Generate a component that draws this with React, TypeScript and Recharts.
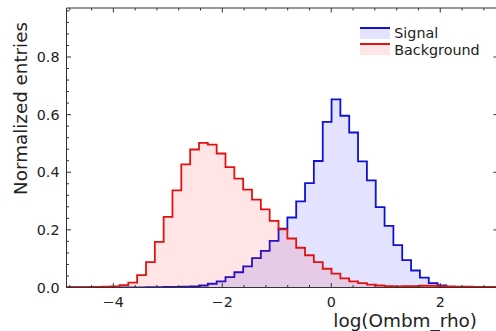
import React from 'react';
import { ComposedChart, Area, XAxis, YAxis } from 'recharts';

// Histogram bin edges (log(Ombm_rho))
const binEdges = [
  -4.861, -4.699, -4.537, -4.375, -4.212, -4.05, -3.888, -3.726, -3.564, -3.401,
  -3.239, -3.077, -2.915, -2.753, -2.59, -2.428, -2.266, -2.104, -1.942, -1.779,
  -1.617, -1.455, -1.293, -1.131, -0.968, -0.806, -0.644, -0.482, -0.32, -0.157,
  0.005, 0.167, 0.329, 0.491, 0.654, 0.816, 0.978, 1.14, 1.302, 1.465,
  1.627, 1.789, 1.951, 2.113, 2.276, 2.438, 2.6, 2.762, 2.924, 3.087,
];

const signalValues = [
  0, 0, 0, 0, 0, 0, 0, 0, 0, 0.001,
  0.001, 0.002, 0.002, 0.003, 0.004, 0.007, 0.013, 0.021, 0.036, 0.053,
  0.073, 0.102, 0.127, 0.162, 0.204, 0.243, 0.299, 0.362, 0.439, 0.575,
  0.653, 0.596, 0.538, 0.438, 0.372, 0.279, 0.214, 0.147, 0.095, 0.059,
  0.034, 0.015, 0.007, 0.002, 0.001, 0, 0, 0, 0,
];

const backgroundValues = [
  0.001, 0.001, 0.001, 0.002, 0.003, 0.004, 0.008, 0.017, 0.043, 0.088,
  0.158, 0.245, 0.337, 0.427, 0.479, 0.502, 0.496, 0.465, 0.418, 0.378,
  0.34, 0.305, 0.271, 0.231, 0.202, 0.17, 0.138, 0.112, 0.088, 0.065,
  0.048, 0.032, 0.021, 0.015, 0.01, 0.007, 0.005, 0.004, 0.005, 0.005,
  0.006, 0.006, 0.005, 0.004, 0.003, 0.003, 0.002, 0.002, 0.002,
];

const seriesNames = ['Signal', 'Background'];

const xMajorTicks = [-4, -2, 0, 2];
const xMinorTicks = [-4.8, -4.4, -3.6, -3.2, -2.8, -2.4, -1.6, -1.2, -0.8, -0.4, 0.4, 0.8, 1.2, 1.6, 2.4, 2.8];
const yMajorTicks = [0, 0.2, 0.4, 0.6, 0.8];
const yMinorTicks = [0.04, 0.08, 0.12, 0.16, 0.24, 0.28, 0.32, 0.36, 0.44, 0.48, 0.52, 0.56, 0.64, 0.68, 0.72, 0.76, 0.84, 0.88, 0.92, 0.96];

const X_DOMAIN: [number, number] = [-4.86, 3.06];
const Y_DOMAIN: [number, number] = [0, 0.97];

const FONT = '"DejaVu Sans", sans-serif';
const AX = '#333';
const TXT = '#222';
const BLUE = '#1111d6';
const RED = '#e01212';
const BLUE_FILL = '#0000ff';
const RED_FILL = '#ff0000';

const rows = binEdges.map((x, i) => ({
  x,
  sig: i < signalValues.length ? signalValues[i] : signalValues[signalValues.length - 1],
  bkg: i < backgroundValues.length ? backgroundValues[i] : backgroundValues[backgroundValues.length - 1],
}));

const fmtX = (v: number) => String(v).replace('-', '\u2212');

const BottomTick = (props: any) => {
  const { x, y, payload } = props;
  const v = payload.value;
  const major = xMajorTicks.includes(v);
  return (
    <g>
      <line x1={x} x2={x} y1={y} y2={y - (major ? 4.5 : 2.5)} stroke={AX} strokeWidth={1} />
      {major && (
        <text x={x} y={y + 19} textAnchor="middle" fontSize={14.3} fill={TXT} fontFamily={FONT}>
          {fmtX(v)}
        </text>
      )}
    </g>
  );
};

const TopTick = (props: any) => {
  const { x, y, payload } = props;
  const major = xMajorTicks.includes(payload.value);
  return <line x1={x} x2={x} y1={y} y2={y + (major ? 4.5 : 2.5)} stroke={AX} strokeWidth={1} />;
};

const LeftTick = (props: any) => {
  const { x, y, payload } = props;
  const v = payload.value;
  const major = yMajorTicks.includes(v);
  return (
    <g>
      <line x1={x} x2={x + (major ? 4.5 : 2.5)} y1={y} y2={y} stroke={AX} strokeWidth={1} />
      {major && (
        <text x={x - 7} y={y + 5.2} textAnchor="end" fontSize={14.3} fill={TXT} fontFamily={FONT}>
          {v.toFixed(1)}
        </text>
      )}
    </g>
  );
};

const RightTick = (props: any) => {
  const { x, y } = props;
  return <line x1={x} x2={x - 4.5} y1={y} y2={y} stroke={AX} strokeWidth={1} />;
};

const XTitle = () => (
  <text x={477} y={327} textAnchor="end" fontSize={18.4} fill={TXT} fontFamily={FONT}>
    log(Ombm_rho)
  </text>
);

const YTitle = () => (
  <text
    x={27}
    y={108.5}
    transform="rotate(-90 27 108.5)"
    textAnchor="middle"
    fontSize={18.3}
    fill={TXT}
    fontFamily={FONT}
  >
    Normalized entries
  </text>
);

const legendItems = [
  { name: seriesNames[0], stroke: BLUE, fill: 'rgba(0,0,255,0.11)' },
  { name: seriesNames[1], stroke: RED, fill: 'rgba(255,0,0,0.1)' },
];

export default function App() {
  return (
    <div
      style={{
        position: 'absolute',
        left: 0,
        top: 0,
        width: 496,
        height: 331,
        overflow: 'hidden',
        background: '#fff',
        fontFamily: FONT,
      }}
    >
      <ComposedChart width={500} height={331} data={rows} margin={{ top: 7, right: 1, bottom: 0, left: 0 }}>
        <XAxis
          xAxisId="b"
          type="number"
          dataKey="x"
          domain={X_DOMAIN}
          allowDataOverflow
          ticks={[...xMajorTicks, ...xMinorTicks]}
          interval={0}
          tickSize={0}
          tickMargin={0}
          tickLine={false}
          tick={BottomTick}
          axisLine={{ stroke: AX, strokeWidth: 1 }}
          height={43.5}
          label={{ content: XTitle }}
        />
        <XAxis
          xAxisId="t"
          orientation="top"
          type="number"
          dataKey="x"
          domain={X_DOMAIN}
          allowDataOverflow
          ticks={[...xMajorTicks, ...xMinorTicks]}
          interval={0}
          tickSize={0}
          tickMargin={0}
          tickLine={false}
          tick={TopTick}
          axisLine={{ stroke: AX, strokeWidth: 1 }}
          height={1}
        />
        <YAxis
          yAxisId="l"
          type="number"
          domain={Y_DOMAIN}
          allowDataOverflow
          ticks={[...yMajorTicks, ...yMinorTicks]}
          interval={0}
          tickSize={0}
          tickMargin={0}
          tickLine={false}
          tick={LeftTick}
          axisLine={{ stroke: AX, strokeWidth: 1 }}
          width={66.5}
          label={{ content: YTitle }}
        />
        <YAxis
          yAxisId="r"
          orientation="right"
          type="number"
          domain={Y_DOMAIN}
          allowDataOverflow
          ticks={yMajorTicks}
          interval={0}
          tickSize={0}
          tickMargin={0}
          tickLine={false}
          tick={RightTick}
          axisLine={{ stroke: AX, strokeWidth: 1 }}
          width={1}
        />
        <Area
          xAxisId="b"
          yAxisId="l"
          type="stepAfter"
          dataKey="sig"
          name={seriesNames[0]}
          stroke={BLUE}
          strokeWidth={1.8}
          fill={BLUE_FILL}
          fillOpacity={0.11}
          dot={false}
          activeDot={false}
          isAnimationActive={false}
        />
        <Area
          xAxisId="b"
          yAxisId="l"
          type="stepAfter"
          dataKey="bkg"
          name={seriesNames[1]}
          stroke={RED}
          strokeWidth={1.8}
          fill={RED_FILL}
          fillOpacity={0.1}
          dot={false}
          activeDot={false}
          isAnimationActive={false}
        />
      </ComposedChart>
      <div style={{ position: 'absolute', left: 360, top: 0 }}>
        {legendItems.map((it, i) => (
          <div key={it.name} style={{ position: 'absolute', left: 0, top: 25.4 + i * 16.7, width: 140, height: 17 }}>
            <div
              style={{
                position: 'absolute',
                left: 0,
                top: 1.3,
                width: 30,
                height: 10,
                background: it.fill,
                borderTop: `2px solid ${it.stroke}`,
              }}
            />
            <span
              style={{
                position: 'absolute',
                left: 34.3,
                top: 0,
                fontSize: 14.3,
                lineHeight: '16.6px',
                color: TXT,
                whiteSpace: 'nowrap',
                fontFamily: FONT,
              }}
            >
              {it.name}
            </span>
          </div>
        ))}
      </div>
    </div>
  );
}
